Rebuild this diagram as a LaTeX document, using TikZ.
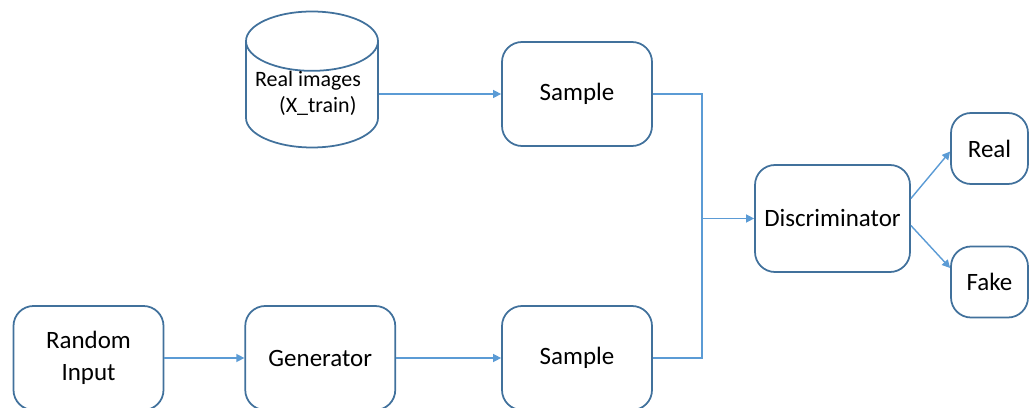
\documentclass[tikz,border=0pt]{standalone}
\usepackage{fontspec}
\setmainfont{Carlito}
\usetikzlibrary{positioning,arrows.meta,calc,shapes.geometric}
\definecolor{boxline}{HTML}{41719C}
\definecolor{arrline}{HTML}{5B9BD5}
\tikzset{
  >={Triangle[length=1.6mm,width=1.6mm]},
  procbox/.style={draw=boxline,rounded corners=4mm,line width=1pt,
    minimum width=3cm,minimum height=2.08cm,align=center,inner sep=2pt},
  outbox/.style={procbox,minimum width=1.54cm,minimum height=1.42cm},
  dbstore/.style={cylinder,shape border rotate=90,aspect=0.45,draw=boxline,
    line width=1pt,minimum width=2.64cm,minimum height=2.72cm},
  link/.style={draw=arrline,line width=0.8pt},
  flow/.style={->,link},
}

\begin{document}
\begin{tikzpicture}[every node/.style={font=\fontsize{14.2}{18}\selectfont}]
  \useasboundingbox (0,0) rectangle (20.7,8.14);
  \clip (0,0) rectangle (20.7,8.14);
  % real data branch
  \node[dbstore,anchor=shape center] (realdb) at (6.24,6.55) {\hphantom{Real images}};
  \node[align=left,font=\fontsize{12.5}{14.6}\selectfont] (realtxt) at (6.16,6.27)
    {Real images\\\hspace*{0.48cm}(X\_train)};
  \node[procbox] (smpreal) at (11.54,6.26) {Sample};
  % generated data branch
  \node[procbox] (noise) at (1.77,0.98) {Random\\Input};
  \node[procbox,right=1.6cm of noise] (gen) {Generator};
  \node[procbox] (smpfake) at (11.54,0.98) {Sample};
  % discriminator and its two outputs
  \node[procbox,minimum width=3.1cm,minimum height=2.14cm] (disc) at (16.65,3.77) {Discriminator};
  \node[outbox] (real) at (19.79,5.17) {Real};
  \node[outbox] (fake) at (19.79,2.5) {Fake};
  \coordinate (join) at (14.04,3.77);

  \draw[flow] (smpreal.west -| realdb.east) -- (smpreal.west);
  \draw[flow] (noise) -- (gen);
  \draw[flow] (gen) -- (smpfake);
  \draw[link] (smpreal.east) -| (join);
  \draw[link] (smpfake.east) -| (join);
  \draw[flow] (join) -- (disc.west);
  \draw[flow] ($(disc.east)+(0,0.4)$) -- ($(real.west)+(0,-0.06)$);
  \draw[flow] ($(disc.east)+(0,-0.14)$) -- ($(fake.west)+(0,0.28)$);
\end{tikzpicture}
\end{document}
